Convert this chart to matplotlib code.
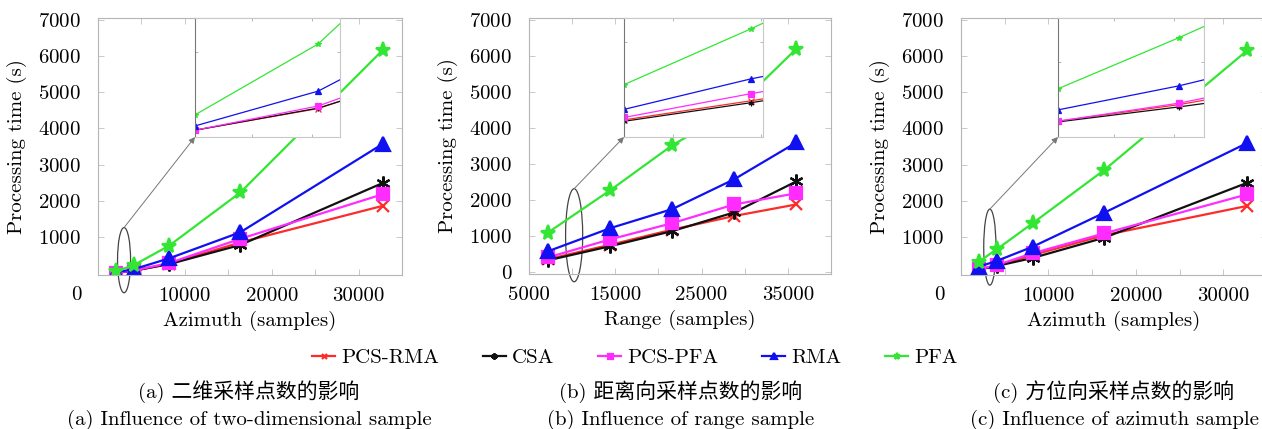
import matplotlib
matplotlib.use('Agg')
import matplotlib.pyplot as plt
from matplotlib.patches import Ellipse
from matplotlib.ticker import FixedLocator, NullFormatter

plt.rcParams['font.family'] = ['cmr10', 'Noto Sans CJK SC']
plt.rcParams['axes.formatter.use_mathtext'] = True
plt.rcParams['font.size'] = 15

# data
names = ['PCS-RMA', 'CSA', 'PCS-PFA', 'RMA', 'PFA']
colors = ['#ff2a2a', '#111111', '#ff2bff', '#1010f0', '#33e633']
markers = ['x', (6, 2, 0), 's', '^', '*']
msizes = [8, 10, 8, 10, 11]

x_2d = [2048, 4096, 8192, 16384, 32768]
x_rng = [7200, 14400, 21600, 28800, 36000]
x_azi = [2048, 4096, 8192, 16384, 32768]

vals_2d = [[16, 67, 260, 850, 1860],
           [16, 68, 250, 780, 2490],
           [16, 73, 280, 950, 2180],
           [26, 108, 410, 1130, 3570],
           [52, 219, 760, 2230, 6160]]
vals_rng = [[360, 760, 1180, 1560, 1880],
            [330, 720, 1140, 1660, 2520],
            [410, 910, 1360, 1880, 2190],
            [580, 1220, 1750, 2580, 3600],
            [1100, 2270, 3520, 4520, 6200]]
vals_azi = [[105, 215, 500, 1050, 1860],
            [100, 200, 420, 980, 2500],
            [105, 225, 550, 1100, 2180],
            [180, 340, 730, 1670, 3600],
            [320, 660, 1380, 2850, 6160]]

xlabels = ['Azimuth (samples)', 'Range (samples)', 'Azimuth (samples)']
captions = [('(a) 二维采样点数的影响', '(a) Influence of two-dimensional sample'),
            ('(b) 距离向采样点数的影响', '(b) Influence of range sample'),
            ('(c) 方位向采样点数的影响', '(c) Influence of azimuth sample')]
caption_x = [249, 681, 1114]

W, H = 1262, 429
fig = plt.figure(figsize=(W / 100, H / 100), dpi=100)


def box(x0, y0, x1, y1):
    return [x0 / W, 1 - y1 / H, (x1 - x0) / W, (y1 - y0) / H]


panels = [
    dict(x=x_2d, vals=vals_2d, pos=box(98, 18, 402, 275), xlim=(0, 35000),
         xmaj=[0, 10000, 20000, 30000], xlab=['', '10000', '20000', '30000'],
         ytk=range(1000, 8000, 1000), zero=True,
         inset=box(195, 18, 340, 137), ixlim=(2048, 4458), iylim=(0, 280),
         ell=(3000, 360, 1500, 1800)),
    dict(x=x_rng, vals=vals_rng, pos=box(529, 18, 831, 274), xlim=(5000, 40000),
         xmaj=[5000, 15000, 25000, 35000], xlab=['5000', '15000', '25000', '35000'],
         ytk=range(0, 8000, 1000), zero=False,
         inset=box(624, 18, 763, 137), ixlim=(7200, 15100), iylim=(0, 2500),
         ell=(10230, 1025, 1980, 2580)),
    dict(x=x_azi, vals=vals_azi, pos=box(961, 18, 1267, 275), xlim=(0, 35000),
         xmaj=[0, 10000, 20000, 30000], xlab=['', '10000', '20000', '30000'],
         ytk=range(1000, 8000, 1000), zero=True,
         inset=box(1058, 18, 1204, 137), ixlim=(2048, 4515), iylim=(0, 790),
         ell=(3300, 720, 1400, 2100)),
]

handles = []
for k, p in enumerate(panels):
    ax = fig.add_axes(p['pos'])
    for i in range(5):
        ln, = ax.plot(p['x'], p['vals'][i], color=colors[i], marker=markers[i],
                      ms=msizes[i], lw=1.6, mew=1.6, label=names[i])
        if k == 0:
            handles.append(ln)
    ax.set_xlim(*p['xlim'])
    ax.set_ylim(-50, 7050)
    ax.xaxis.set_major_locator(FixedLocator(p['xmaj']))
    ax.set_xticklabels(p['xlab'])
    ax.xaxis.set_minor_locator(FixedLocator([v + 5000 for v in p['xmaj']]))
    ax.set_yticks(list(p['ytk']))
    ax.tick_params(which='both', direction='in', top=True, right=True,
                   length=4, color='#c0c0c0', width=0.6)
    ax.tick_params(axis='x', pad=9)
    ax.tick_params(axis='y', pad=12)
    for s in ax.spines.values():
        s.set_color('#b5b5b5')
        s.set_linewidth(0.8)
    ax.set_xlabel(xlabels[k], labelpad=4)
    ax.set_ylabel('Processing time (s)', labelpad=8)
    if p['zero']:
        ax.annotate('0', xy=(0, 0), xycoords='axes fraction', xytext=(-22, -20),
                    textcoords='offset pixels', ha='center', va='center')

    # zoom ellipse
    cx, cy, ew, eh = p['ell']
    ax.add_patch(Ellipse((cx, cy), ew, eh, fill=False, ec='#444444', lw=0.9,
                         clip_on=False))

    # inset
    ins = fig.add_axes(p['inset'])
    for i in range(5):
        ins.plot(p['x'], p['vals'][i], color=colors[i], marker=markers[i],
                 ms=4, lw=0.9, mew=0.9)
    ins.set_xlim(*p['ixlim'])
    ins.set_ylim(*p['iylim'])
    ins.xaxis.set_major_formatter(NullFormatter())
    ins.yaxis.set_major_formatter(NullFormatter())
    ins.tick_params(direction='in', top=True, right=True, length=2,
                    color='#999999', width=0.5)
    for s in ins.spines.values():
        s.set_color('#c8c8c8')
        s.set_linewidth(0.8)
    ins.spines['left'].set_color('#777777')

    ax.annotate('', xy=(0, 0), xycoords=ins.transAxes,
                xytext=(cx, cy + eh / 2), textcoords='data',
                arrowprops=dict(arrowstyle='-|>', color='#777777', lw=0.7,
                                mutation_scale=9, shrinkA=0, shrinkB=0))

    fig.text(caption_x[k] / W, 1 - 392 / H, captions[k][0], ha='center',
             va='center', fontsize=15)
    fig.text(caption_x[k] / W, 1 - 420 / H, captions[k][1], ha='center',
             va='center', fontsize=15)

fig.legend(handles=handles, loc='center', bbox_to_anchor=(635 / W, 1 - 358 / H),
           ncol=5, frameon=False, markerscale=0.45, handlelength=1.1,
           handletextpad=0.3, columnspacing=2.1, fontsize=15)

fig.savefig('out.png', dpi=100)
